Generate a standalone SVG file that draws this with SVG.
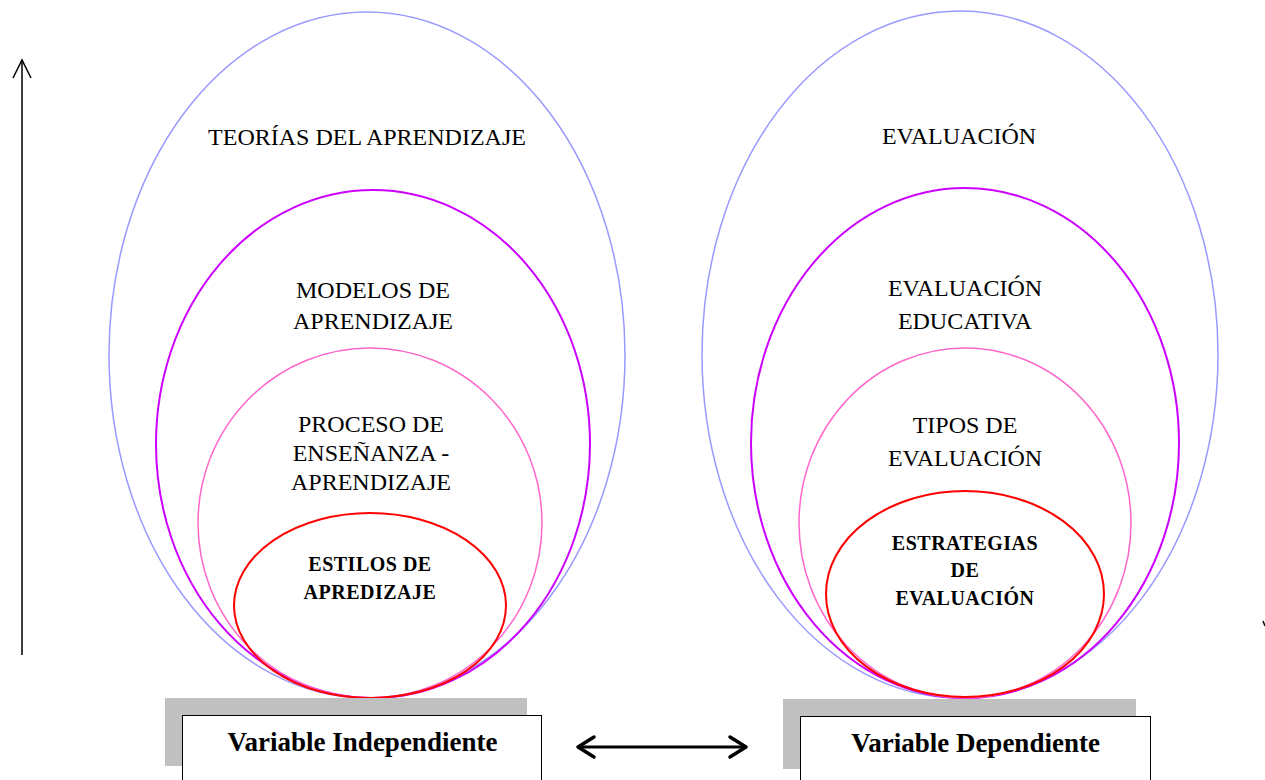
<svg xmlns="http://www.w3.org/2000/svg" width="1265" height="780" viewBox="0 0 1265 780">
<style>
  .e { fill: none; }
  .blue { stroke: #9999ff; stroke-width: 1.5; }
  .mag { stroke: #cc00ff; stroke-width: 2; }
  .pink { stroke: #ff66cc; stroke-width: 1.5; }
  .red { stroke: #ff0000; stroke-width: 2; }
  .t { font-family: "Liberation Serif", "Times New Roman", serif; font-size: 24px; fill: #000; text-anchor: middle; }
  .b { font-family: "Liberation Serif", "Times New Roman", serif; font-size: 20px; font-weight: bold; letter-spacing: 0.5px; fill: #000; text-anchor: middle; }
  .v { font-family: "Liberation Serif", "Times New Roman", serif; font-size: 27px; font-weight: bold; fill: #000; text-anchor: middle; }
  .shadow { fill: #c0c0c0; }
  .box { fill: #fff; stroke: #000; stroke-width: 1; }
  .ln { fill: none; stroke: #000; }
</style>
<rect width="1265" height="780" fill="#fff"/>

<g id="left-ellipses">
  <g id="teorias">
    <ellipse class="e blue" cx="367" cy="355" rx="258" ry="343"/>
    <text class="t" x="367" y="145">TEORÍAS DEL APRENDIZAJE</text>
  </g>
  <g id="modelos">
    <ellipse class="e mag" cx="373" cy="444" rx="217" ry="254"/>
    <text class="t" x="373" y="298">MODELOS DE</text>
    <text class="t" x="373" y="329">APRENDIZAJE</text>
  </g>
  <g id="proceso">
    <ellipse class="e pink" cx="370" cy="523" rx="172" ry="175"/>
    <text class="t" x="371" y="432">PROCESO DE</text>
    <text class="t" x="371" y="461">ENSEÑANZA -</text>
    <text class="t" x="371" y="490">APRENDIZAJE</text>
  </g>
  <g id="estilos">
    <ellipse class="e red" cx="370" cy="605.5" rx="136" ry="92.5"/>
    <text class="b" x="370" y="571">ESTILOS DE</text>
    <text class="b" x="370" y="599">APREDIZAJE</text>
  </g>
</g>

<g id="right-ellipses">
  <g id="evaluacion">
    <ellipse class="e blue" cx="960" cy="354.5" rx="258" ry="343.5"/>
    <text class="t" x="959" y="144">EVALUACIÓN</text>
  </g>
  <g id="evaluacion-educativa">
    <ellipse class="e mag" cx="965" cy="443" rx="214" ry="255"/>
    <text class="t" x="965" y="296">EVALUACIÓN</text>
    <text class="t" x="965" y="329">EDUCATIVA</text>
  </g>
  <g id="tipos">
    <ellipse class="e pink" cx="965" cy="523" rx="166" ry="175"/>
    <text class="t" x="965" y="433">TIPOS DE</text>
    <text class="t" x="965" y="466">EVALUACIÓN</text>
  </g>
  <g id="estrategias">
    <ellipse class="e red" cx="965" cy="594" rx="139" ry="103"/>
    <text class="b" x="965" y="550">ESTRATEGIAS</text>
    <text class="b" x="965" y="577">DE</text>
    <text class="b" x="965" y="605">EVALUACIÓN</text>
  </g>
</g>

<g id="var-independiente">
  <rect class="shadow" x="165" y="698" width="362" height="68"/>
  <rect class="box" x="182.5" y="715.5" width="359" height="70"/>
  <text class="v" x="362.5" y="751">Variable Independiente</text>
</g>

<g id="var-dependiente">
  <rect class="shadow" x="783" y="699" width="353" height="70"/>
  <rect class="box" x="800.5" y="716.5" width="350" height="70"/>
  <text class="v" x="975.5" y="752">Variable Dependiente</text>
</g>

<g id="connectors">
  <line class="ln" x1="22" y1="655" x2="22" y2="60" stroke-width="1.5"/>
  <polyline class="ln" points="13,78 22,60 31,78" stroke-width="1.5"/>
  <line class="ln" x1="578" y1="747" x2="746" y2="747" stroke-width="3"/>
  <polyline class="ln" points="594,737 578,747 594,757" stroke-width="3.5" stroke-linecap="round" stroke-linejoin="round"/>
  <polyline class="ln" points="730,737 746,747 730,757" stroke-width="3.5" stroke-linecap="round" stroke-linejoin="round"/>
  <line class="ln" x1="1263" y1="621" x2="1265" y2="626" stroke-width="1.5"/>
</g>
</svg>
